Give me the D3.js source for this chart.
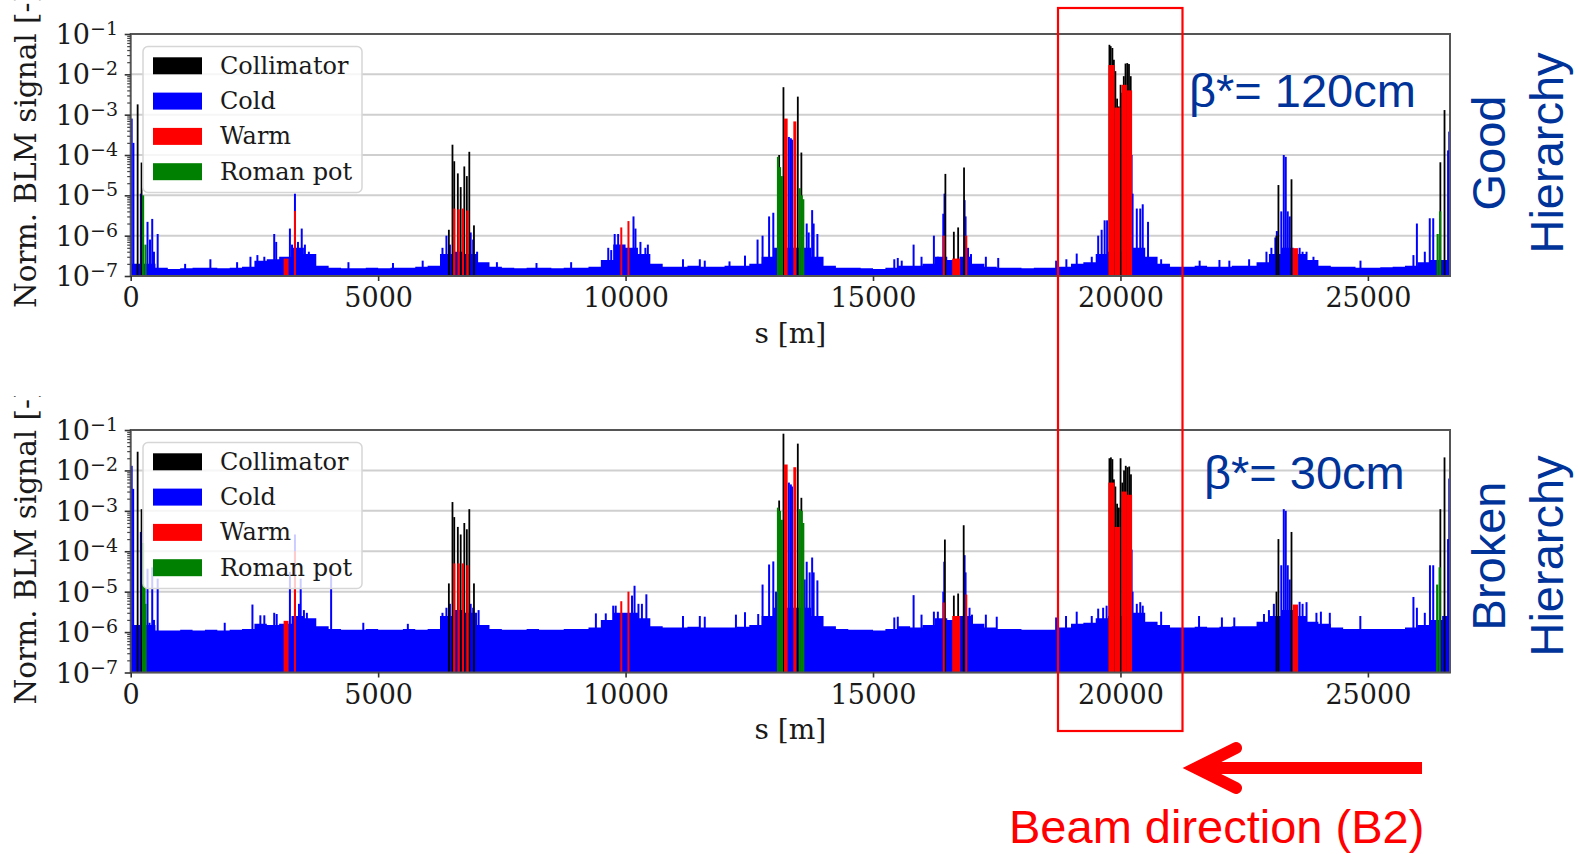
<!DOCTYPE html>
<html>
<head>
<meta charset="utf-8">
<script src="https://cdn.jsdelivr.net/npm/d3@7"></script>
<style>
  body { margin: 0; background: #fff; }
  svg { display: block; }
</style>
</head>
<body>
<svg id="chart" width="1578" height="854"></svg>
<script>
// LHC loss maps, B2, two beta* settings

const S_MAX = 26659;          // ring length [m]
const FLOOR_STEP = 250;       // cold floor is read in 250 m bins

const xTicks = [0, 5000, 10000, 15000, 20000, 25000];
const yDecades = [1e-7, 1e-6, 1e-5, 1e-4, 1e-3, 1e-2, 1e-1];
const yTickExp = ["−7", "−6", "−5", "−4", "−3", "−2", "−1"];
const legendLabels = ["Collimator", "Cold", "Warm", "Roman pot"];

// ---- beta* = 120 cm (good hierarchy) ----
const topFloor = [
  2.0e-7, 2.0e-7, 1.6e-7, 1.5e-7, 1.55e-7, 1.6e-7, 1.6e-7, 1.55e-7, 1.6e-7, 1.7e-7,
  2.4e-7, 2.6e-7, 3.0e-7, 5.0e-7, 3.5e-7, 1.8e-7, 1.6e-7, 1.55e-7, 1.55e-7, 1.6e-7,
  1.55e-7, 1.6e-7, 1.6e-7, 1.7e-7, 1.8e-7, 3.5e-7, 4.0e-7, 3.5e-7, 2.2e-7, 1.7e-7,
  1.6e-7, 1.55e-7, 1.6e-7, 1.6e-7, 1.55e-7, 1.6e-7, 1.6e-7, 1.7e-7, 2.5e-7, 6.0e-7,
  5.0e-7, 3.5e-7, 2.0e-7, 1.7e-7, 1.7e-7, 1.8e-7, 1.7e-7, 1.7e-7, 1.8e-7, 1.8e-7,
  2.0e-7, 3.0e-7, 5.0e-7, 5.0e-7, 5.0e-7, 3.0e-7, 1.8e-7, 1.6e-7, 1.6e-7, 1.55e-7,
  1.5e-7, 1.6e-7, 1.8e-7, 1.8e-7, 2.0e-7, 3.0e-7, 2.5e-7, 3.0e-7, 2.0e-7, 1.7e-7,
  1.6e-7, 1.6e-7, 1.55e-7, 1.6e-7, 1.6e-7, 1.7e-7, 2.0e-7, 2.2e-7, 3.5e-7, 4.0e-7,
  4.0e-7, 5.0e-7, 3.0e-7, 2.0e-7, 1.7e-7, 1.7e-7, 1.8e-7, 1.7e-7, 1.7e-7, 1.8e-7,
  1.8e-7, 2.2e-7, 3.5e-7, 5.0e-7, 3.5e-7, 2.5e-7, 1.8e-7, 1.7e-7, 1.7e-7, 1.6e-7,
  1.6e-7, 1.65e-7, 1.7e-7, 1.8e-7, 2.2e-7, 2.5e-7, 2.5e-7
];
const topCold = [
  [20, 8e-4], [55, 2e-4], [205, 1.1e-5], [340, 2.2e-6], [390, 8e-7], [435, 2.6e-6], [470, 4e-7], [545, 1.1e-6],
  [1100, 2.0e-7], [1610, 2.6e-7], [2150, 2.2e-7], [2420, 3e-7], [2560, 3.3e-7], [2700, 3e-7], [2900, 1.1e-6], [2940, 7e-7],
  [3217, 1.5e-6], [3260, 6e-7], [3319, 1.1e-5], [3380, 7e-7], [3456, 1.5e-6], [3520, 6e-7], [3600, 4e-7],
  [4400, 2.2e-7], [5300, 2.1e-7], [5900, 2.4e-7],
  [6300, 5e-7], [6380, 1e-6], [6450, 6e-7], [6870, 1.2e-6], [6920, 8e-7], [7000, 4e-7], [7400, 2.2e-7], [8200, 2.1e-7], [8900, 2.2e-7],
  [9650, 5e-7], [9710, 4.4e-7], [9780, 1.1e-6], [9850, 1.1e-6], [10160, 3e-6], [10200, 1.5e-6], [10300, 7e-7], [10400, 5e-7], [10450, 6e-7],
  [11160, 2.6e-7], [11500, 2.6e-7], [11600, 2.4e-7], [12100, 2.3e-7], [12413, 3.2e-7],
  [12667, 8e-7], [12768, 1e-6], [12900, 3e-6], [12985, 3.7e-6], [13300, 2.8e-4], [13340, 2.6e-4], [13365, 2.4e-4],
  [13660, 2e-6], [13700, 1.2e-6], [13770, 4.3e-6], [13800, 2e-6], [13876, 1.1e-6],
  [15430, 2.6e-7], [15500, 2.8e-7], [15580, 2.4e-7], [15820, 6e-7], [15980, 3e-7], [16230, 1e-6], [16310, 3e-7],
  [16420, 3.5e-6], [16445, 1.1e-5], [16850, 7.6e-6], [16870, 3e-6], [16920, 5e-7], [16980, 3.5e-7], [17280, 3e-7], [17530, 2.8e-7],
  [18700, 2.4e-7], [18907, 2.6e-7], [19116, 3.6e-7], [19420, 3e-7], [19550, 1e-6], [19620, 1.4e-6], [19680, 2.4e-6], [19730, 2.4e-6],
  [20225, 1e-4], [20245, 1.1e-5], [20330, 4.7e-6], [20400, 4.7e-6], [20450, 6e-6], [20557, 2.2e-6], [20822, 2.6e-7],
  [21600, 2.4e-7], [22000, 2.5e-7], [22200, 2.4e-7], [22600, 2.6e-7],
  [22950, 4e-7], [23050, 5e-7], [23130, 9e-7], [23160, 1.3e-6], [23250, 4e-6], [23300, 1e-4], [23340, 9e-5], [23380, 4e-6], [23420, 3e-6],
  [23620, 5e-7], [23680, 4e-7], [23760, 4e-7], [23900, 3e-7], [24850, 2.4e-7],
  [25920, 3.3e-7], [25990, 2e-6], [26150, 4e-7], [26250, 2.7e-6], [26320, 2.7e-6], [26620, 1.3e-4], [26644, 3.8e-4]
];
const topWarm = [
  [3319, 4.1e-6], [9913, 1.6e-6], [10058, 2.3e-6], [16430, 1e-6], [16885, 1e-6]
];
const topWarmSpans = [
  [3090, 3190, 2.7e-7], [6515, 6560, 4.7e-6], [6600, 6650, 4.5e-6], [6695, 6735, 4.7e-6], [6780, 6830, 4.2e-6],
  [13200, 13275, 8e-4], [13390, 13450, 6.8e-4], [16600, 16760, 2.7e-7],
  [19756, 19880, 1.7e-2], [19880, 19990, 1.5e-3], [20020, 20130, 5.5e-3], [20130, 20235, 4e-3], [23480, 23590, 4.9e-7]
];
const topColl = [
  [138, 1.8e-3], [217, 6.5e-5],
  [6427, 1.4e-6], [6500, 1.8e-4], [6536, 7e-5], [6608, 3.5e-5], [6666, 1.6e-5], [6739, 5.2e-5], [6790, 3e-5], [6840, 1.2e-4], [6934, 1.8e-6],
  [13101, 1e-4], [13188, 4.8e-3], [13478, 2.8e-3], [13550, 1.15e-4],
  [16460, 3.4e-5], [16631, 1.25e-6], [16718, 1.6e-6], [16837, 4.9e-5],
  [19775, 0.054], [19800, 0.05], [19835, 0.045], [19865, 0.023], [19895, 0.012], [19930, 2.5e-3], [19965, 1.6e-3],
  [20000, 5.5e-3], [20030, 3.5e-3], [20065, 0.009], [20100, 0.0185], [20135, 0.019], [20170, 0.018], [20205, 0.009],
  [23150, 1e-6], [23190, 1.8e-5], [23454, 2.5e-5],
  [26462, 6.6e-5], [26546, 1.3e-3]
];
const topRoman = [
  [250, 1e-5], [300, 6e-7], [13080, 9e-5], [13120, 5e-5], [13160, 3e-5], [13520, 1.5e-5], [13560, 1e-5], [13590, 8e-6],
  [26410, 1.1e-6], [26460, 4e-6]
];

// ---- beta* = 30 cm (broken hierarchy) ----
const botFloor = [
  1.5e-6, 1.5e-6, 1.1e-6, 1.1e-6, 1.15e-6, 1.1e-6, 1.15e-6, 1.1e-6, 1.15e-6, 1.2e-6,
  1.6e-6, 1.5e-6, 1.6e-6, 2.5e-6, 2.2e-6, 1.4e-6, 1.2e-6, 1.15e-6, 1.15e-6, 1.2e-6,
  1.15e-6, 1.15e-6, 1.2e-6, 1.15e-6, 1.2e-6, 2.5e-6, 3.5e-6, 3.0e-6, 1.5e-6, 1.2e-6,
  1.15e-6, 1.15e-6, 1.2e-6, 1.15e-6, 1.15e-6, 1.2e-6, 1.2e-6, 1.3e-6, 2.0e-6, 3.0e-6,
  3.0e-6, 2.2e-6, 1.4e-6, 1.3e-6, 1.3e-6, 1.35e-6, 1.3e-6, 1.3e-6, 1.3e-6, 1.35e-6,
  1.5e-6, 2.5e-6, 4.0e-6, 4.0e-6, 4.0e-6, 2.5e-6, 1.4e-6, 1.2e-6, 1.15e-6, 1.15e-6,
  1.1e-6, 1.2e-6, 1.4e-6, 1.3e-6, 1.5e-6, 2.2e-6, 2.0e-6, 2.5e-6, 1.6e-6, 1.3e-6,
  1.2e-6, 1.2e-6, 1.15e-6, 1.15e-6, 1.15e-6, 1.3e-6, 1.6e-6, 1.7e-6, 2.2e-6, 2.5e-6,
  2.5e-6, 3.0e-6, 1.8e-6, 1.5e-6, 1.3e-6, 1.3e-6, 1.35e-6, 1.3e-6, 1.35e-6, 1.4e-6,
  1.4e-6, 1.8e-6, 2.5e-6, 3.5e-6, 2.5e-6, 1.8e-6, 1.6e-6, 1.3e-6, 1.2e-6, 1.2e-6,
  1.2e-6, 1.2e-6, 1.2e-6, 1.3e-6, 1.5e-6, 2.0e-6, 2.5e-6
];
const botCold = [
  [20, 1.3e-2], [50, 3.5e-3], [205, 3e-4], [340, 3.7e-5], [380, 1.7e-6], [435, 4e-5], [470, 2e-6], [545, 2.1e-5],
  [1900, 1.7e-6], [2460, 4.8e-6], [2620, 2.6e-6], [2700, 2.6e-6], [2900, 3e-6], [2950, 2.8e-6],
  [3217, 3.1e-5], [3319, 2.6e-4], [3400, 5e-6], [3435, 2.1e-5], [3500, 3.5e-6], [3560, 3e-6], [4050, 2.7e-5],
  [4700, 1.7e-6], [5600, 1.6e-6],
  [6300, 3e-6], [6380, 4e-6], [6450, 5e-6], [6870, 5e-6], [6920, 4e-6], [7030, 3.5e-6],
  [9400, 2.9e-6], [9600, 2.9e-6], [9750, 4.5e-6], [9800, 4.5e-6], [10130, 8e-6], [10181, 1.4e-5], [10260, 5e-6], [10330, 5e-6], [10420, 8.6e-6],
  [11160, 2.5e-6], [11500, 2.5e-6], [11600, 2.4e-6], [12230, 2.7e-6], [12413, 3.1e-6],
  [12680, 2.8e-6], [12768, 1.5e-5], [12900, 4.7e-5], [12985, 5.6e-5], [13040, 1e-5],
  [13300, 5e-3], [13340, 4.5e-3], [13365, 4e-3],
  [13620, 2e-5], [13660, 5.5e-5], [13720, 3e-5], [13770, 7e-5], [13800, 3e-5], [13876, 1.9e-5],
  [15430, 2.3e-6], [15500, 2.4e-6], [15820, 8.2e-6], [15980, 2.7e-6], [16230, 3.2e-6], [16310, 3.2e-6],
  [16420, 1e-5], [16440, 5.5e-5], [16850, 8e-5], [16870, 3e-5], [16950, 4e-6], [17000, 2.7e-6], [17280, 2.7e-6], [17500, 2.4e-6],
  [18700, 2.3e-6], [18900, 2.5e-6], [19116, 3.2e-6], [19420, 2.5e-6], [19550, 3.8e-6], [19650, 4e-6], [19720, 4.5e-6],
  [20225, 1.1e-4], [20245, 1e-5], [20330, 5e-6], [20400, 5.5e-6], [20450, 4.5e-6], [20822, 3.2e-6],
  [21588, 2.5e-6], [22050, 2.3e-6], [22300, 2.3e-6],
  [22900, 2.8e-6], [23000, 3.5e-6], [23100, 5e-6], [23250, 4.5e-5], [23300, 1.1e-3], [23340, 1e-3], [23380, 4.5e-5], [23420, 2e-5],
  [23620, 5.6e-6], [23680, 5e-6], [23760, 5.5e-6], [23960, 3e-6], [24050, 3.2e-6], [24230, 3e-6], [24847, 2.5e-6],
  [25920, 7.4e-6], [25990, 4e-6], [26150, 3e-6], [26254, 4.5e-5], [26320, 4.5e-5], [26620, 2e-4], [26644, 6.3e-3]
];
const botWarm = [
  [3319, 1e-4], [9913, 5.8e-6], [10058, 1e-5], [16430, 5.4e-6], [16885, 8.5e-6]
];
const botWarmSpans = [
  [3090, 3190, 1.9e-6], [6515, 6560, 5e-5], [6600, 6650, 5e-5], [6695, 6735, 5e-5], [6780, 6830, 4.5e-5],
  [13200, 13275, 1.4e-2], [13390, 13450, 1.2e-2], [16600, 16760, 2.5e-6],
  [19756, 19880, 5e-3], [19880, 19990, 4e-4], [20020, 20130, 3e-3], [20130, 20235, 2.5e-3], [23480, 23590, 4.8e-6]
];
const botColl = [
  [138, 2.9e-2], [217, 1.1e-3],
  [6427, 1.6e-5], [6500, 1.65e-3], [6536, 7e-4], [6608, 4e-4], [6666, 2.6e-4], [6739, 5e-4], [6790, 3.5e-4], [6840, 1.1e-3], [6934, 1.6e-5],
  [13101, 1.8e-3], [13188, 0.081], [13478, 0.046], [13550, 2.1e-3],
  [16450, 1.95e-4], [16631, 8e-6], [16718, 9e-6], [16830, 4.4e-4],
  [19775, 0.02], [19805, 0.021], [19835, 0.019], [19865, 0.006], [19895, 0.004], [19930, 1.5e-3], [19965, 1.2e-3],
  [20000, 0.02], [20035, 0.005], [20070, 0.01], [20105, 0.013], [20140, 0.012], [20175, 0.0125], [20210, 0.008],
  [23150, 1e-5], [23190, 2e-4], [23454, 3e-4],
  [26462, 1.1e-3], [26546, 0.021]
];
const botRoman = [
  [250, 1.6e-4], [280, 1.3e-5], [300, 5e-6], [13080, 1.2e-3], [13120, 1e-3], [13160, 6e-4], [13520, 1.1e-3], [13560, 1e-3], [13590, 5e-4],
  [26400, 1.5e-5], [26450, 4e-5]
];

// ---- layout / style ----
const C = { coll: "#000000", cold: "#0000ff", warm: "#ff0000", roman: "#008000" };
const legendColors = [C.coll, C.cold, C.warm, C.roman];
const serif = "'DejaVu Serif', serif";
const sans = "'Liberation Sans', Arial, sans-serif";
const noteBlue = "#003399";

const panels = [
  { id: "top", top: 34, bottom: 276, floor: topFloor, cold: topCold, warm: topWarm, warmSpans: topWarmSpans,
    coll: topColl, roman: topRoman, beta: "β*= 120cm", betaX: 1189, betaY: 107,
    note: ["Good", "Hierarchy"], noteY: 153, labelClipTop: 0 },
  { id: "bot", top: 430, bottom: 672.5, floor: botFloor, cold: botCold, warm: botWarm, warmSpans: botWarmSpans,
    coll: botColl, roman: botRoman, beta: "β*= 30cm", betaX: 1204, betaY: 489,
    note: ["Broken", "Hierarchy"], noteY: 556, labelClipTop: 396 }
];

const svg = d3.select("#chart");
const defs = svg.append("defs");

const x = d3.scaleLinear().domain([0, S_MAX]).range([130.7, 1450]);
const [x0, x1] = x.range();

function spikes(g, arr, color, y, bottom, halfW) {
  g.append("g").selectAll("rect").data(arr).join("rect")
    .attr("x", d => x(d[0] - halfW))
    .attr("width", d => Math.max(1.8, x(d[0] + halfW) - x(d[0] - halfW)))
    .attr("y", d => y(d[1]))
    .attr("height", d => bottom - y(d[1]))
    .attr("fill", color);
}

function spans(g, arr, color, y, bottom) {
  g.append("g").selectAll("rect").data(arr).join("rect")
    .attr("x", d => x(d[0]))
    .attr("width", d => x(d[1]) - x(d[0]))
    .attr("y", d => y(d[2]))
    .attr("height", d => bottom - y(d[2]))
    .attr("fill", color);
}

panels.forEach(p => {
  const y = d3.scaleLog().domain([1e-7, 1e-1]).range([p.bottom, p.top]);
  const g = svg.append("g");

  // grid
  g.append("g").selectAll("line").data(yDecades).join("line")
    .attr("x1", x0).attr("x2", x1)
    .attr("y1", d => y(d)).attr("y2", d => y(d))
    .attr("stroke", "#cfcfcf").attr("stroke-width", 2);

  defs.append("clipPath").attr("id", "clip-" + p.id)
    .append("rect").attr("x", x0).attr("y", p.top).attr("width", x1 - x0).attr("height", p.bottom - p.top);
  const marks = g.append("g").attr("clip-path", `url(#clip-${p.id})`);

  // cold floor
  const floorPts = p.floor.map((v, i) => ({ s: i * FLOOR_STEP, v }));
  floorPts.push({ s: S_MAX, v: p.floor[p.floor.length - 1] });
  marks.append("path").datum(floorPts)
    .attr("d", d3.area().x(d => x(d.s)).y0(p.bottom).y1(d => y(d.v)).curve(d3.curveStepAfter))
    .attr("fill", C.cold);

  spikes(marks, p.cold, C.cold, y, p.bottom, 20);
  spikes(marks, p.coll, C.coll, y, p.bottom, 16);
  spans(marks, p.warmSpans, C.warm, y, p.bottom);
  spikes(marks, p.warm, C.warm, y, p.bottom, 20);
  spikes(marks, p.roman, C.roman, y, p.bottom, 22);

  // frame
  g.append("rect").attr("x", x0).attr("y", p.top).attr("width", x1 - x0).attr("height", p.bottom - p.top)
    .attr("fill", "none").attr("stroke", "#555").attr("stroke-width", 2);

  // x axis
  const xa = g.append("g").attr("transform", `translate(0,${p.bottom})`)
    .call(d3.axisBottom(x).tickValues(xTicks).tickSize(5).tickPadding(7).tickFormat(d3.format("d")));
  xa.select(".domain").remove();
  xa.selectAll("line").attr("stroke", "#333").attr("stroke-width", 1.6);
  xa.selectAll("text").attr("font-family", serif).attr("font-size", 27).attr("fill", "#1a1a1a");

  // y axis: major + minor ticks
  const ya = g.append("g").attr("transform", `translate(${x0},0)`)
    .call(d3.axisLeft(y).tickValues(yDecades).tickSize(6).tickFormat(""));
  ya.select(".domain").remove();
  ya.selectAll("line").attr("stroke", "#333").attr("stroke-width", 1.6);
  const minor = y.ticks().filter(t => !yDecades.some(d => Math.abs(d - t) / d < 1e-6));
  const ym = g.append("g").attr("transform", `translate(${x0},0)`)
    .call(d3.axisLeft(y).tickValues(minor).tickSize(3.5).tickFormat(""));
  ym.select(".domain").remove();
  ym.selectAll("line").attr("stroke", "#444").attr("stroke-width", 1.2);

  const lab = g.append("g").selectAll("text").data(yDecades).join("text")
    .attr("x", 118).attr("y", d => y(d) + 10)
    .attr("text-anchor", "end")
    .attr("font-family", serif).attr("font-size", 27).attr("fill", "#1a1a1a");
  lab.append("tspan").text("10");
  lab.append("tspan").attr("dy", -9).attr("font-size", 19).text((d, i) => yTickExp[i]);

  // axis labels
  g.append("text").attr("x", (x0 + x1) / 2).attr("y", p.bottom + 66.5)
    .attr("text-anchor", "middle").attr("font-family", serif).attr("font-size", 28).attr("fill", "#1a1a1a")
    .text("s [m]");
  defs.append("clipPath").attr("id", "ylab-" + p.id)
    .append("rect").attr("x", 0).attr("y", p.labelClipTop).attr("width", 120).attr("height", 400);
  g.append("g").attr("clip-path", `url(#ylab-${p.id})`)
    .append("text").attr("transform", `translate(36,${p.bottom + 32}) rotate(-90)`)
    .attr("font-family", serif).attr("font-size", 29.5).attr("fill", "#1a1a1a")
    .text("Norm. BLM signal [-]");

  // legend
  const lg = g.append("g").attr("transform", `translate(143,${p.top + 12.5})`);
  lg.append("rect").attr("width", 219).attr("height", 146).attr("rx", 5)
    .attr("fill", "#fff").attr("fill-opacity", 0.8).attr("stroke", "#d6d6d6").attr("stroke-width", 1.5);
  const rows = lg.selectAll("g.row").data(legendLabels).join("g").attr("class", "row")
    .attr("transform", (d, i) => `translate(0,${10.8 + i * 35.3})`);
  rows.append("rect").attr("x", 10).attr("y", 0).attr("width", 49).attr("height", 17)
    .attr("fill", (d, i) => legendColors[i]);
  rows.append("text").attr("x", 77).attr("y", 16.5)
    .attr("font-family", serif).attr("font-size", 24).attr("fill", "#1a1a1a").text(d => d);

  // annotations
  svg.append("text").attr("x", p.betaX).attr("y", p.betaY)
    .attr("font-family", sans).attr("font-size", 47).attr("fill", noteBlue).text(p.beta);
  const noteX = [1505, 1563];
  p.note.forEach((t, i) => {
    svg.append("text").attr("transform", `translate(${noteX[i]},${p.noteY}) rotate(-90)`)
      .attr("text-anchor", "middle").attr("font-family", sans).attr("font-size", 47).attr("fill", noteBlue).text(t);
  });
});

// highlight box around IR7
svg.append("rect").attr("x", 1058).attr("y", 8).attr("width", 124.5).attr("height", 723)
  .attr("fill", "none").attr("stroke", "#ff0000").attr("stroke-width", 2.2);

// beam direction arrow
svg.append("line").attr("x1", 1205).attr("x2", 1422).attr("y1", 768).attr("y2", 768)
  .attr("stroke", "#ff0000").attr("stroke-width", 12);
svg.append("path").attr("d", "M1236,748 L1196,768 L1236,788")
  .attr("fill", "none").attr("stroke", "#ff0000").attr("stroke-width", 12)
  .attr("stroke-linecap", "round").attr("stroke-linejoin", "miter");
svg.append("text").attr("x", 1009).attr("y", 843)
  .attr("font-family", sans).attr("font-size", 47).attr("fill", "#ff0000").text("Beam direction (B2)");
</script>
</body>
</html>
